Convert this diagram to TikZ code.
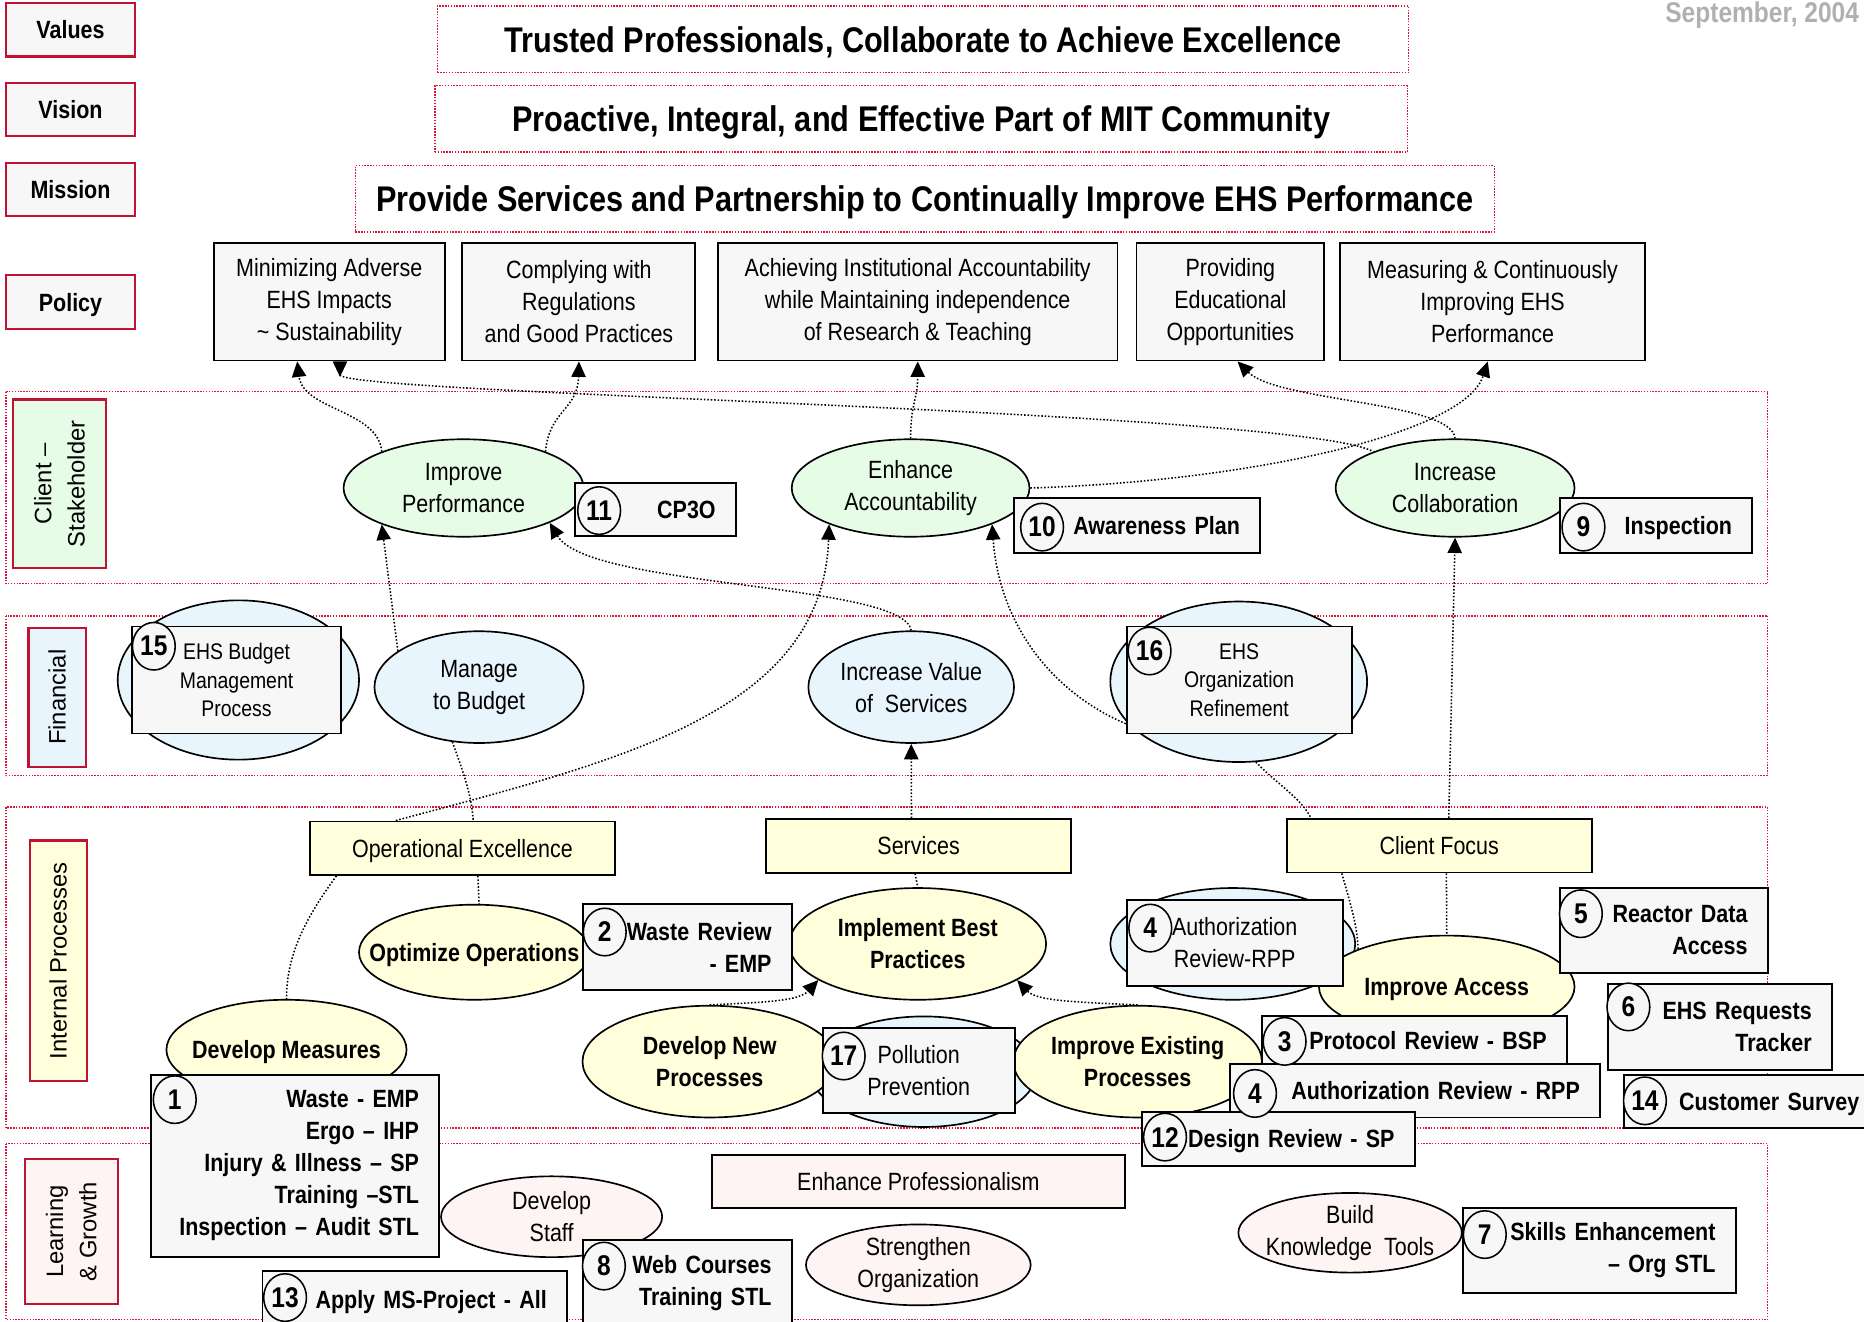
\documentclass[tikz,border=0pt]{standalone}
\usepackage{fontspec}
\setmainfont[FakeStretch=0.86]{Liberation Sans}
\newfontfamily\lanefont{Liberation Sans}
\usetikzlibrary{shapes.geometric,arrows.meta}

\definecolor{labelred}{RGB}{190,20,50}
\definecolor{dotred}{RGB}{220,20,60}
\definecolor{clientgreen}{RGB}{230,252,230}
\definecolor{finblue}{RGB}{232,245,253}
\definecolor{procyellow}{RGB}{255,255,220}
\definecolor{learnpink}{RGB}{255,244,244}
\definecolor{boxgray}{RGB}{247,247,247}
\definecolor{dategray}{RGB}{176,176,176}

\tikzset{
  every node/.style={font=\fontsize{21}{27}\selectfont, inner sep=2pt},
  lane/.style={draw=dotred, line width=1.2pt, dash pattern=on 1.2pt off 1.2pt},
  tag/.style={draw=labelred, line width=1.8pt, fill=boxgray, font=\fontsize{21}{27}\selectfont\bfseries,
    minimum width=108pt, minimum height=45pt, text depth=0pt},
  headline/.style={draw=dotred, line width=1.2pt, dash pattern=on 1.2pt off 1.2pt, fill=white,
    font=\fontsize{30}{36}\selectfont\bfseries, minimum height=56pt, text depth=0pt},
  policy/.style={draw, line width=1.6pt, fill=boxgray, align=center, minimum height=99pt},
  lanetag/.style={draw=labelred, line width=1.8pt, rotate=90, align=center,
    font=\lanefont\fontsize{20}{28}\selectfont},
  goal/.style={ellipse, draw, line width=1.4pt, align=center, inner sep=-40pt},
  clientgoal/.style={goal, fill=clientgreen},
  fingoal/.style={goal, fill=finblue},
  procgoal/.style={goal, fill=procyellow, font=\fontsize{21}{27}\selectfont\bfseries},
  learngoal/.style={goal, fill=learnpink},
  ring/.style={ellipse, draw, line width=1.4pt, fill=finblue, inner sep=0pt},
  theme/.style={draw, line width=1.6pt, minimum height=45pt, text depth=0pt},
  numbox/.style={draw, line width=1.6pt, fill=boxgray, font=\fontsize{21}{27}\selectfont\bfseries,
    align=right, inner xsep=17pt, inner ysep=2pt},
  onebox/.style={numbox, text depth=0pt},
  infobox/.style={draw, line width=1.6pt, fill=boxgray, align=center, inner ysep=2pt},
  num/.style={ellipse, draw, line width=1.3pt, fill=boxgray, font=\fontsize{24}{24}\selectfont\bfseries,
    minimum width=36pt, minimum height=40pt, inner sep=0pt},
  link/.style={line width=1.3pt, dash pattern=on 1.3pt off 1.6pt},
  arr/.style={link, -{Triangle[length=13pt,width=12pt]}},
  backarr/.style={link, {Triangle[reversed,length=13pt,width=12pt]}-},
}

\begin{document}
\begin{tikzpicture}[x=1pt, y=-1pt]
\useasboundingbox (0,0) rectangle (1568,1112);

% swim lanes
\draw[lane] (5,329.5) rectangle (1487,491);
\draw[lane] (5,518) rectangle (1487,652.5);
\draw[lane] (5,679) rectangle (1487,949);
\draw[lane] (5,962) rectangle (1487,1110);

% values, vision, mission
\node[tag] (lblvalues) at (59.3,25) {Values};
\node[tag] (lblvision) at (59.3,92.2) {Vision};
\node[tag] (lblmission) at (59.3,159.5) {Mission};
\node[tag] (lblpolicy) at (59.3,254) {Policy};

\node[headline, minimum width=817pt] (values) at (776.5,33) {Trusted Professionals, Collaborate to Achieve Excellence};
\node[headline, minimum width=818pt] (vision) at (774.8,100) {Proactive, Integral, and Effective Part of MIT Community};
\node[headline, minimum width=958pt] (mission) at (778,167.3) {Provide Services and Partnership to Continually Improve EHS Performance};

\node[anchor=east, text=dategray, font=\fontsize{24}{24}\selectfont\bfseries] (date) at (1566,13) {September, 2004};

% policy
\node[policy, minimum width=194pt] (pol1) at (277,253.75) {Minimizing Adverse\\EHS Impacts\\\textasciitilde{} Sustainability};
\node[policy, minimum width=196pt] (pol2) at (487,253.75) {Complying with\\Regulations\\and Good Practices};
\node[policy, minimum width=336pt] (pol3) at (772,253.75) {Achieving Institutional Accountability\\while Maintaining independence\\of Research \& Teaching};
\node[policy, minimum width=158pt] (pol4) at (1035,253.75) {Providing\\Educational\\Opportunities};
\node[policy, minimum width=257pt] (pol5) at (1255.5,253.75) {Measuring \& Continuously\\Improving EHS\\Performance};

% lane labels
\node[lanetag, fill=clientgreen, minimum width=142pt, minimum height=78pt] (tagclient) at (50,407) {Client –\\Stakeholder};
\node[lanetag, fill=finblue, minimum width=117pt, minimum height=48pt] (tagfin) at (48,586.5) {Financial};
\node[lanetag, fill=procyellow, minimum width=202pt, minimum height=48pt] (tagproc) at (49,808) {Internal Processes};
\node[lanetag, fill=learnpink, minimum width=122pt, minimum height=78pt] (taglearn) at (60,1036) {Learning\\\& Growth};

% rings behind boxes
\node[ring, minimum width=203pt, minimum height=134pt] (budgetring) at (200.5,572) {};
\node[ring, minimum width=216pt, minimum height=135pt] (orgring) at (1042,573.5) {};
\node[ring, minimum width=206pt, minimum height=94pt] (authring) at (1037,794) {};
\node[ring, minimum width=190pt, minimum height=93pt] (pollring) at (777,901.5) {};

% objectives
\node[clientgoal, minimum width=202pt, minimum height=82pt] (impperf) at (390,410.5) {Improve\\Performance};
\node[clientgoal, minimum width=200pt, minimum height=82pt] (enhacc) at (766,410.5) {Enhance\\Accountability};
\node[clientgoal, minimum width=201pt, minimum height=82pt] (inccol) at (1224,410.5) {Increase\\Collaboration};

\node[fingoal, minimum width=176pt, minimum height=94pt] (mgbudget) at (403,578) {Manage\\to Budget};
\node[fingoal, minimum width=173pt, minimum height=94pt] (incvalue) at (766.5,578) {Increase Value\\of \ Services};

\node[procgoal, text depth=0pt, minimum width=194pt, minimum height=80pt] (optops) at (399,801) {Optimize Operations};
\node[procgoal, minimum width=216pt, minimum height=94pt] (impbest) at (772,794) {Implement Best\\Practices};
\node[procgoal, text depth=0pt, minimum width=215pt, minimum height=86pt] (impaccess) at (1217,830) {Improve Access};
\node[procgoal, text depth=0pt, minimum width=202pt, minimum height=84pt] (devmeas) at (241,883) {Develop Measures};
\node[procgoal, minimum width=214pt, minimum height=94pt] (devnew) at (597,893) {Develop New\\Processes};
\node[procgoal, minimum width=209pt, minimum height=94pt] (impexist) at (957,893) {Improve Existing\\Processes};

\node[learngoal, minimum width=186pt, minimum height=68pt] (devstaff) at (464,1023.5) {Develop\\Staff};
\node[learngoal, minimum width=189pt, minimum height=68pt] (strengthen) at (772.5,1064) {Strengthen\\Organization};
\node[learngoal, minimum width=188pt, minimum height=67pt] (buildtools) at (1135.7,1037) {Build\\Knowledge \ Tools};

% themes
\node[theme, fill=procyellow, minimum width=256pt] (opex) at (389,713.5) {Operational Excellence};
\node[theme, fill=procyellow, minimum width=256.5pt] (services) at (772.75,711.5) {Services};
\node[theme, fill=procyellow, minimum width=256.2pt] (clientfocus) at (1210.7,711.4) {Client Focus};
\node[theme, fill=learnpink, minimum width=347pt] (enhprof) at (772.5,994) {Enhance Professionalism};

% initiatives
\node[onebox, text width=101pt, minimum height=45pt] (cp3o) at (551.5,428.5) {CP3O};
\node[onebox, text width=173pt, minimum height=46pt] (awareness) at (956.5,442) {Awareness Plan};
\node[onebox, text width=128pt, minimum height=46pt] (inspection) at (1393,442) {Inspection};
\node[infobox, font=\fontsize{19}{24}\selectfont, minimum width=176pt, minimum height=90pt] (budgetbox) at (199,572) {EHS Budget\\Management\\Process};
\node[infobox, font=\fontsize{19}{24}\selectfont, minimum width=189.3pt, minimum height=90pt] (orgbox) at (1042.4,572) {EHS\\Organization\\Refinement};
\node[numbox, text width=141.4pt, minimum height=72pt] (waste) at (578.3,796.7) {Waste Review\\- EMP};
\node[infobox, minimum width=181.8pt, minimum height=72.8pt] (authbox) at (1038.6,793.1) {Authorization\\Review-RPP};
\node[numbox, text width=141pt, minimum height=71.5pt] (reactor) at (1399.5,782.7) {Reactor Data\\Access};
\node[numbox, text width=154.7pt, minimum height=72pt] (requests) at (1446.7,864) {EHS Requests\\Tracker};
\node[onebox, text width=181pt, minimum height=45pt] (survey) at (1473.5,926.5) {Customer Survey};
\node[numbox, text width=208.8pt, minimum height=153pt] (measures) at (248.1,980.5) {Waste - EMP\\Ergo – IHP\\Injury \& Illness – SP\\Training –STL\\Inspection – Audit STL};
\node[infobox, minimum width=161.5pt, minimum height=71pt] (pollbox) at (772.8,900.5) {Pollution\\Prevention};
\node[onebox, text width=222.4pt, minimum height=40.4pt] (protocol) at (1189.8,874.8) {Protocol Review - BSP};
\node[onebox, text width=277pt, minimum height=45pt] (authrev) at (1190.5,917.5) {Authorization Review - RPP};
\node[onebox, text width=195pt, minimum height=45pt] (design) at (1075.5,958) {Design Review - SP};
\node[numbox, text width=195.3pt, minimum height=71.6pt] (skills) at (1345.4,1051.8) {Skills Enhancement\\– Org STL};
\node[numbox, text width=141.4pt, minimum height=73pt] (webcourses) at (578.3,1079.5) {Web Courses\\Training STL};
\node[onebox, text width=222.2pt, minimum height=48pt] (msproject) at (348.9,1093) {Apply MS-Project - All};

% numbers
\node[num] (n11) at (504,429.5) {11};
\node[num] (n10) at (876.6,443.4) {10};
\node[num] (n9) at (1332,443.4) {9};
\node[num] (n15) at (129.4,543.6) {15};
\node[num] (n16) at (967,547.6) {16};
\node[num] (n2) at (508.7,784) {2};
\node[num] (n4a) at (967.6,780.7) {4};
\node[num] (n5) at (1329.8,768.6) {5};
\node[num] (n6) at (1369.8,847) {6};
\node[num] (n1) at (147,925) {1};
\node[num] (n17) at (709.7,888.3) {17};
\node[num] (n3) at (1080.6,876) {3};
\node[num] (n4b) at (1055.7,919.8) {4};
\node[num] (n12) at (980,956.5) {12};
\node[num] (n14) at (1383.7,926) {14};
\node[num] (n7) at (1249,1038.5) {7};
\node[num] (n8) at (508,1065) {8};
\node[num] (n13) at (239.8,1091.5) {13};

% links to policy
\draw[arr] (impperf.156) .. controls (318,345) and (255,345) .. ([xshift=-27pt]pol1.south);
\draw[arr] (impperf.24) .. controls (462,345) and (486,345) .. (pol2.south);
\draw[arr] (enhacc.north) .. controls (766,340) and (772,335) .. (pol3.south);
\draw[arr] (enhacc.east) .. controls (1050,405) and (1232,365) .. ([xshift=-4pt]pol5.south);
\draw[arr] (inccol.north) .. controls (1222,338) and (1075,338) .. ([xshift=6pt]pol4.south);
\draw[backarr] ([xshift=9pt]pol1.south) .. controls (286,332) and (1090,345) .. (inccol.156);

% links to client
\draw[arr] (mgbudget.156) -- (impperf.204);
\draw[arr] (incvalue.north) .. controls (760,490) and (495,495) .. (impperf.338);
\draw[arr] ([xshift=-56pt]opex.north) .. controls (520,640) and (692,600) .. (enhacc.204);
\draw[arr] ([yshift=9pt]orgbox.south west) .. controls (880,580) and (840,520) .. (enhacc.336);
\draw[arr] ([xshift=8pt]clientfocus.north) -- (inccol.south);
\draw[arr] ([xshift=-6pt]services.north) -- (incvalue.south);

% links in processes
\draw[link] (mgbudget.244) .. controls (390,650) and (397,670) .. ([xshift=9pt]opex.north);
\draw[link] ([xshift=13pt]opex.south) -- ([xshift=4pt]optops.north);
\draw[link] ([xshift=-106pt]opex.south) .. controls (255,775) and (241,805) .. (devmeas.north);
\draw[link] ([xshift=-3pt]services.south) -- (impbest.north);
\draw[arr] (devnew.north) .. controls (645,843) and (672,842) .. (impbest.200);
\draw[arr] (impexist.north) .. controls (905,843) and (872,842) .. (impbest.340);
\draw[link] ([xshift=-82pt]clientfocus.south) .. controls (1136,760) and (1142,780) .. (impaccess.157);
\draw[link] ([xshift=6pt]clientfocus.south) -- (impaccess.north);
\draw[link] (orgring.282) .. controls (1075,660) and (1095,672) .. ([xshift=-108pt]clientfocus.north);
\end{tikzpicture}
\end{document}
